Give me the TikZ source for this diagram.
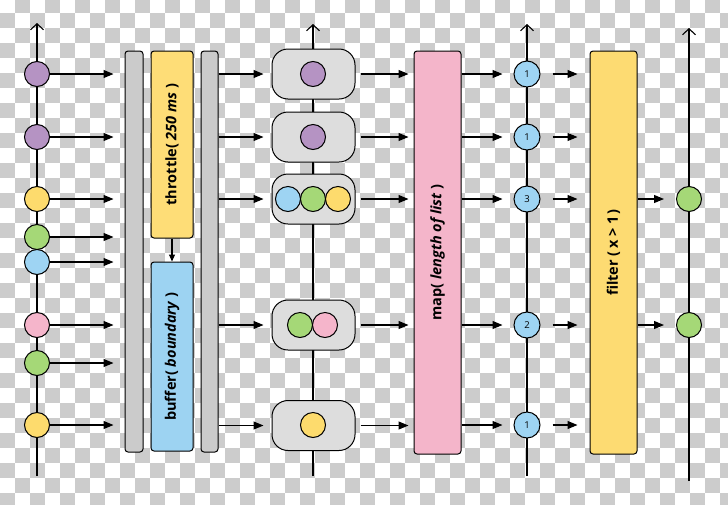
\documentclass[tikz,border=0pt]{standalone}
\usepackage{fontspec}
\setmainfont{Open Sans}
\usetikzlibrary{arrows.meta,calc}
\definecolor{chk}{HTML}{CCCCCC}
\definecolor{cpurple}{HTML}{B593C3}
\definecolor{cyellow}{HTML}{FDDB6D}
\definecolor{cgreen}{HTML}{A5D877}
\definecolor{cblue}{HTML}{9ED4F3}
\definecolor{cpink}{HTML}{F5B5CB}
\definecolor{barg}{HTML}{CBCBCB}
\definecolor{capg}{HTML}{DDDDDD}
\definecolor{thry}{HTML}{FEDD77}
\definecolor{bufb}{HTML}{9DD3F2}
\definecolor{mapp}{HTML}{F4B5CA}
\definecolor{filty}{HTML}{FDDB72}
\tikzset{
  dot/.style={circle,draw=black,line width=1pt,minimum size=25pt,inner sep=0pt},
  numdot/.style={dot,fill=cblue,minimum size=26pt,font=\fontsize{9.5}{10}\selectfont},
  bar/.style={draw=black,line width=1pt,rounded corners=3pt,fill=barg,inner sep=0pt},
  opbox/.style={draw=black,line width=1pt,rounded corners=3pt,inner sep=0pt},
  capsule/.style={draw=black,line width=1pt,rounded corners=16pt,fill=capg,minimum width=83pt,minimum height=50pt,inner sep=0pt},
  arr/.style={line width=1.1pt,-{Triangle[length=10pt,width=8pt]}},
  tl/.style={line width=1.1pt,-{Straight Barb[length=6pt,width=13pt,line width=1.1pt]}},
  lbl/.style={font=\fontsize{14.5}{15}\selectfont\bfseries,rotate=90}
}
\begin{document}
\begin{tikzpicture}[x=1pt,y=-1pt]
\useasboundingbox (0,0) rectangle (728,504);
\clip (0,0) rectangle (728,504);
\fill[white] (0,0) rectangle (728,504);
% checkerboard
\foreach \j in {0,...,34}{
  \foreach \i in {0,...,24}{
    \pgfmathtruncatemacro\cx{2*\i+mod(\j+1,2)}
    \fill[chk] (15*\cx,-2+15*\j) rectangle ++(15,15);
  }
}
% timelines
\coordinate (t1b) at (37,476); \coordinate (t1t) at (37,23);
\coordinate (t2b) at (313,476); \coordinate (t2t) at (313,24);
\coordinate (t3b) at (527,476); \coordinate (t3t) at (527,24);
\coordinate (t4b) at (689,481); \coordinate (t4t) at (689,28);
\draw[tl] (t1b) -- (t1t);
\draw[tl] (t2b) -- (t2t);
\draw[tl] (t3b) -- (t3t);
\draw[tl] (t4b) -- (t4t);
% left input circles
\node[dot,fill=cpurple] (a1) at (37,74) {};
\node[dot,fill=cpurple] (a2) at (37,137) {};
\node[dot,fill=cyellow] (a3) at (37,199) {};
\node[dot,fill=cgreen] (a4) at (37,237) {};
\node[dot,fill=cblue] (a5) at (37,262) {};
\node[dot,fill=cpink] (a6) at (37,325) {};
\node[dot,fill=cgreen] (a7) at (37,363) {};
\node[dot,fill=cyellow] (a8) at (37,425) {};
% bars and operator boxes
\node[bar,minimum width=18pt,minimum height=401pt] (bar1) at (134,251.5) {};
\node[bar,minimum width=17pt,minimum height=401pt] (bar2) at (209.5,251.5) {};
\node[opbox,fill=thry,minimum width=42pt,minimum height=187pt] (thr) at (172,144.5) {};
\node[lbl] at (thr) {throttle( \textit{250 ms} )};
\node[opbox,fill=bufb,minimum width=42pt,minimum height=189pt] (buf) at (172,356.5) {};
\node[lbl] at (buf) {buffer( \textit{boundary} )};
\draw[line width=1.1pt,-{Triangle[length=7pt,width=6pt]}] (thr.south) -- (buf.north);
\foreach \n in {a1,a2,a3,a4,a5,a6,a7,a8}{
  \draw[arr,shorten >=11pt] (\n.east) -- (\n -| bar1.west);
}
% capsules
\node[capsule] (c1) at (313.5,74) {};
\node[capsule] (c2) at (313.5,137) {};
\node[capsule] (c3) at (313.5,199) {};
\node[capsule] (c4) at (313.5,325) {};
\node[capsule] (c5) at (313.5,425.5) {};
\node[dot,fill=cpurple] (c1a) at (313,74) {};
\node[dot,fill=cpurple] (c2a) at (313,137) {};
\node[dot,fill=cblue] (c3a) at (288,199) {};
\node[dot,fill=cgreen] (c3b) at (313,199) {};
\node[dot,fill=cyellow] (c3c) at (338,199) {};
\node[dot,fill=cgreen] (c4a) at (300,325) {};
\node[dot,fill=cpink] (c4b) at (325,325) {};
\node[dot,fill=cyellow] (c5a) at (313,425) {};
\foreach \n in {c1,c2,c3,c4,c5}{
  \draw[arr,shorten >=8pt] (bar2.east |- \n) -- (\n.west);
}
% map
\node[opbox,fill=mapp,minimum width=47pt,minimum height=403pt] (map) at (437.5,252.5) {};
\node[lbl] at (map) {map( \textit{length of list} )};
\foreach \n in {c1,c2,c3,c4,c5}{
  \draw[arr,shorten <=5pt,shorten >=5pt] (\n.east) -- (\n -| map.west);
}
% numbers
\node[numdot] (n1) at (527,74) {1};
\node[numdot] (n2) at (527,137) {1};
\node[numdot] (n3) at (527,199) {3};
\node[numdot] (n4) at (527,325) {2};
\node[numdot] (n5) at (527,425) {1};
\foreach \n in {n1,n2,n3,n4,n5}{
  \draw[arr,shorten >=11pt] (map.east |- \n) -- (\n.west);
}
% filter
\node[opbox,fill=filty,minimum width=47pt,minimum height=403pt] (filt) at (613.5,252.5) {};
\node[lbl] at (filt) {filter (\,x > 1\,)};
\foreach \n in {n1,n2,n3,n4,n5}{
  \draw[arr,shorten <=12pt,shorten >=12pt] (\n.east) -- (\n -| filt.west);
}
% outputs
\node[dot,fill=cgreen] (o1) at (689,199) {};
\node[dot,fill=cgreen] (o2) at (689,325) {};
\draw[arr,shorten >=12pt] (filt.east |- o1) -- (o1.west);
\draw[arr,shorten >=12pt] (filt.east |- o2) -- (o2.west);
\end{tikzpicture}
\end{document}
